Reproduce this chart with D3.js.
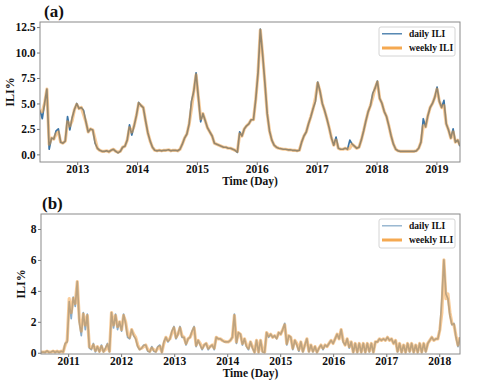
<!DOCTYPE html>
<html>
<head>
<meta charset="utf-8">
<script src="https://cdn.jsdelivr.net/npm/d3@7"></script>
<style>
  body { margin: 0; background: #fff; }
  svg { display: block; font-family: "Liberation Serif", "Times New Roman", serif; font-weight: bold; }
</style>
</head>
<body>
<div id="chartContainer"></div>
<script>
// panel (a): one value every 14 days, starting 2012-05-19
const startA = "2012-05-19";
const stepA = 14;
const weeklyA = [
  4.3,4.2,5.0,6.4,1.0,1.6,1.5,2.0,2.2,1.2,
  1.1,1.3,3.2,2.8,3.3,4.4,4.9,4.5,4.6,3.9,
  3.2,2.2,2.5,2.4,1.5,0.6,0.4,0.3,0.3,0.35,
  0.25,0.4,0.5,0.3,0.2,0.3,0.7,0.8,1.4,2.6,
  2.2,2.8,3.8,5.0,4.8,4.6,3.3,2.1,1.3,0.7,
  0.4,0.35,0.4,0.35,0.4,0.4,0.45,0.35,0.4,0.4,
  0.35,0.5,1.0,1.6,2.0,3.0,4.5,6.2,7.8,5.6,
  3.5,4.0,3.3,2.6,2.2,1.8,1.1,1.0,0.9,0.8,
  0.7,0.7,0.6,0.6,0.5,0.4,0.3,2.0,1.8,2.5,
  2.8,3.0,3.4,3.4,5.4,8.0,12.2,9.8,7.0,4.0,
  2.3,1.4,0.9,0.7,0.6,0.55,0.5,0.5,0.45,0.45,
  0.4,0.4,0.35,0.4,1.2,1.8,2.2,3.0,3.7,4.5,
  5.5,7.0,6.2,5.0,4.3,3.5,2.6,1.6,0.9,1.4,
  0.6,0.5,0.5,0.6,0.5,0.6,1.0,0.8,0.6,0.7,
  1.4,2.3,3.3,4.2,4.8,5.6,6.5,7.1,5.5,5.0,
  4.2,3.7,2.8,1.8,1.0,0.5,0.35,0.3,0.3,0.3,
  0.3,0.3,0.3,0.3,0.35,0.6,1.2,2.8,2.7,3.8,
  4.6,5.0,5.6,6.4,5.2,4.6,4.8,3.0,2.4,1.6,
  2.2,1.2,1.4,0.9
];
const dailyA = [
  4.3,3.5,5.0,6.4,0.5,1.6,1.5,2.3,2.5,1.2,
  1.1,1.3,3.7,2.4,3.6,4.4,5.0,4.5,4.6,4.3,
  3.2,2.2,2.5,2.4,1.1,0.6,0.4,0.3,0.3,0.35,
  0.25,0.4,0.5,0.3,0.15,0.3,0.7,0.8,1.4,2.9,
  1.9,2.8,3.8,5.1,4.8,4.6,3.3,2.1,1.3,0.7,
  0.4,0.35,0.4,0.35,0.4,0.4,0.45,0.35,0.4,0.4,
  0.35,0.5,1.0,1.6,2.0,3.0,5.2,6.2,8.0,5.6,
  3.2,4.0,3.3,2.6,2.2,1.8,1.1,1.0,0.9,0.8,
  0.7,0.7,0.6,0.6,0.5,0.4,0.2,2.2,1.8,2.5,
  2.8,3.0,3.4,3.4,5.4,8.0,12.3,9.8,7.0,4.0,
  2.3,1.4,0.9,0.7,0.6,0.55,0.5,0.5,0.45,0.45,
  0.4,0.4,0.35,0.4,1.2,1.8,2.2,3.0,3.7,4.5,
  5.2,7.1,6.2,5.0,4.3,3.5,2.6,1.6,0.9,1.7,
  0.6,0.5,0.5,0.6,0.5,1.4,1.0,0.8,0.6,0.7,
  1.4,2.3,3.3,4.2,4.8,6.0,6.5,7.2,5.5,5.0,
  4.2,3.7,2.8,1.8,1.0,0.5,0.35,0.3,0.3,0.3,
  0.3,0.3,0.3,0.3,0.35,0.6,1.2,3.5,2.7,3.8,
  4.6,5.0,5.6,6.6,5.2,4.6,5.3,3.0,2.4,1.6,
  2.5,1.2,1.4,0.8
];

// panel (b): one value every 13.88 days, starting 2010-06-28
const startB = "2010-06-28";
const stepB = 13.88;
const weeklyB = [
  0.05,0.05,0.05,0.1,0.05,0.05,0.1,0.05,0.1,0.05,
  0.1,0.05,0.5,0.8,3.5,2.6,3.5,3.2,4.6,2.2,
  1.4,2.5,1.8,2.4,0.4,0.3,0.5,0.15,0.4,0.1,
  0.4,0.1,0.2,0.5,0.1,2.6,1.8,2.4,1.7,2.0,
  1.5,2.4,2.0,1.2,1.0,1.5,1.2,1.0,0.5,0.25,
  0.3,0.4,0.5,0.2,0.1,0.3,0.2,0.1,0.3,0.4,
  0.05,0.6,1.0,0.8,0.9,1.3,1.6,1.0,1.2,1.6,
  1.1,1.0,0.6,0.9,1.0,1.3,1.6,0.5,0.8,0.6,
  0.3,0.5,0.6,0.3,0.4,0.5,0.3,1.0,0.9,0.9,
  0.8,0.75,0.7,0.7,0.8,1.0,2.4,0.7,1.3,1.2,
  0.6,0.9,0.5,0.3,0.7,0.4,0.05,0.8,0.05,0.8,
  0.1,0.05,1.3,1.1,1.2,1.0,1.1,0.95,1.3,1.2,
  1.5,1.8,0.6,1.1,1.0,0.3,0.8,0.6,0.2,0.7,
  0.1,0.5,0.9,0.1,0.5,0.1,0.4,0.05,0.3,0.5,
  0.3,0.5,0.4,0.6,0.8,0.6,0.9,1.2,0.9,1.5,
  0.8,0.5,0.9,0.4,0.7,0.05,0.6,0.05,0.6,0.05,
  0.6,0.05,0.6,0.1,0.6,0.05,0.7,0.7,0.9,0.8,
  0.9,0.8,1.0,0.8,0.9,0.6,0.8,0.1,0.6,0.05,
  0.5,0.05,0.6,0.1,0.6,0.05,0.5,0.05,0.6,0.05,
  0.6,0.1,0.6,0.8,1.0,0.8,0.9,0.9,1.5,2.6,
  6.0,3.5,3.8,2.6,1.9,1.8,1.1,0.5,1.0
];
const dailyB = [
  0.02,0.05,0.02,0.12,0.02,0.05,0.12,0.02,0.1,0.02,
  0.1,0.05,0.6,0.7,3.3,2.2,3.6,3.0,4.6,2.0,
  1.1,2.6,1.5,2.5,0.3,0.2,0.6,0.05,0.4,0.05,
  0.5,0.05,0.3,0.6,0.05,2.6,1.6,2.5,1.5,2.0,
  1.4,2.5,1.9,1.0,0.9,1.5,1.1,0.9,0.4,0.2,
  0.3,0.5,0.5,0.1,0.05,0.4,0.1,0.05,0.4,0.5,
  0.02,0.7,1.0,0.7,0.9,1.4,1.7,0.9,1.2,1.7,
  1.0,1.0,0.5,0.9,1.0,1.4,1.7,0.4,0.8,0.5,
  0.2,0.5,0.6,0.2,0.4,0.5,0.2,1.0,0.9,0.9,
  0.8,0.7,0.7,0.7,0.8,1.0,2.5,0.6,1.3,1.2,
  0.5,0.9,0.4,0.2,0.7,0.3,0.02,0.8,0.02,0.8,
  0.05,0.02,1.3,1.0,1.2,1.0,1.1,0.9,1.3,1.2,
  1.5,1.9,0.5,1.1,1.0,0.2,0.8,0.5,0.1,0.7,
  0.05,0.5,0.9,0.05,0.5,0.05,0.4,0.02,0.3,0.5,
  0.2,0.5,0.4,0.6,0.8,0.6,0.9,1.2,0.9,1.5,
  0.7,0.5,0.9,0.3,0.7,0.02,0.6,0.02,0.6,0.02,
  0.6,0.02,0.6,0.05,0.6,0.02,0.7,0.7,0.9,0.8,
  0.9,0.8,1.0,0.8,0.9,0.6,0.8,0.05,0.6,0.02,
  0.5,0.02,0.6,0.05,0.6,0.02,0.5,0.02,0.6,0.02,
  0.6,0.05,0.6,0.8,1.0,0.8,0.9,0.9,1.5,3.5,
  6.0,3.8,3.5,2.4,1.8,1.9,1.0,0.4,1.0
];

const yTicksA = [0, 2.5, 5, 7.5, 10, 12.5];
const yTicksB = [0, 2, 4, 6, 8];
const seriesNames = ["daily ILI", "weekly ILI"];
const panelLabels = ["(a)", "(b)"];
const xAxisLabel = "Time (Day)";
const yAxisLabel = "ILI%";

const width = 477;
const height = 386;
const dailyColor = "#3a74a6";
const weeklyColor = "#f39a33";

const svg = d3.select("#chartContainer").append("svg")
  .attr("width", width)
  .attr("height", height)
  .attr("viewBox", [0, 0, width, height]);

const parseDate = d3.timeParse("%Y-%m-%d");

function toPoints(values, start, step) {
  const t0 = parseDate(start).getTime();
  return values.map((v, i) => ({ date: new Date(t0 + i * step * 864e5), value: v }));
}

function styleTicks(sel) {
  sel.select(".domain").remove();
  sel.selectAll("line").attr("stroke", "#777");
  sel.selectAll("text")
    .attr("fill", "#111")
    .style("font-size", "11.5px")
    .style("font-family", "Liberation Serif, serif")
    .style("font-weight", "bold");
}

function drawPanel(p) {
  const g = svg.append("g");
  const daily = toPoints(p.daily, p.start, p.step);
  const weekly = toPoints(p.weekly, p.start, p.step);

  const x = d3.scaleTime()
    .domain([daily[0].date, daily[daily.length - 1].date])
    .range([p.left, p.right]);

  const y = d3.scaleLinear()
    .domain(p.yDomain)
    .range([p.bottom, p.top]);

  g.append("clipPath")
    .attr("id", "clip" + p.id)
    .append("rect")
    .attr("x", p.left)
    .attr("y", p.top)
    .attr("width", p.right - p.left)
    .attr("height", p.bottom - p.top);

  const line = d3.line()
    .x(d => x(d.date))
    .y(d => y(d.value));

  const plot = g.append("g").attr("clip-path", `url(#clip${p.id})`);

  plot.append("path")
    .datum(daily)
    .attr("d", line)
    .attr("fill", "none")
    .attr("stroke", dailyColor)
    .attr("stroke-opacity", p.dailyOpacity)
    .attr("stroke-width", 1.7)
    .attr("stroke-linejoin", "round");

  plot.append("path")
    .datum(weekly)
    .attr("d", line)
    .attr("fill", "none")
    .attr("stroke", weeklyColor)
    .attr("stroke-opacity", 0.5)
    .attr("stroke-width", 3.2)
    .attr("stroke-linejoin", "round");

  // x axis
  g.append("g")
    .attr("transform", `translate(0,${p.bottom})`)
    .call(d3.axisBottom(x)
      .ticks(d3.timeYear.every(1))
      .tickFormat(d3.timeFormat("%Y"))
      .tickSize(3)
      .tickSizeOuter(0)
      .tickPadding(0))
    .call(styleTicks);

  // y axis
  g.append("g")
    .attr("transform", `translate(${p.left},0)`)
    .call(d3.axisLeft(y)
      .tickValues(p.yTicks)
      .tickFormat(p.yFormat)
      .tickSize(3)
      .tickSizeOuter(0)
      .tickPadding(1.5))
    .call(styleTicks);

  // frame
  g.append("rect")
    .attr("x", p.left)
    .attr("y", p.top)
    .attr("width", p.right - p.left)
    .attr("height", p.bottom - p.top)
    .attr("fill", "none")
    .attr("stroke", "#8a8a8a")
    .attr("stroke-width", 1);

  // panel label
  g.append("text")
    .attr("x", p.labelX)
    .attr("y", p.labelY)
    .style("font-size", "17px")
    .attr("fill", "#111")
    .text(p.label);

  // axis titles
  g.append("text")
    .attr("text-anchor", "middle")
    .attr("x", (p.left + p.right) / 2)
    .attr("y", p.xLabelY)
    .style("font-size", "11.5px")
    .attr("fill", "#111")
    .text(xAxisLabel);

  g.append("text")
    .attr("text-anchor", "middle")
    .attr("transform", `translate(${p.yLabelX},${(p.top + p.bottom) / 2}) rotate(-90)`)
    .attr("dy", "0.35em")
    .style("font-size", "12px")
    .attr("fill", "#111")
    .text(yAxisLabel);

  // legend
  const lg = g.append("g").attr("transform", `translate(${p.legendX},${p.legendY})`);
  lg.append("rect")
    .attr("width", 76)
    .attr("height", 29)
    .attr("rx", 2)
    .attr("fill", "#fff")
    .attr("fill-opacity", 0.8)
    .attr("stroke", "#d4d4d4")
    .attr("stroke-width", 1);

  const entries = [
    { name: seriesNames[0], color: dailyColor, opacity: p.dailyOpacity, w: 1.3 },
    { name: seriesNames[1], color: weeklyColor, opacity: 0.85, w: 3 }
  ];
  entries.forEach((e, i) => {
    const ly = 6.8 + i * 14.2;
    lg.append("line")
      .attr("x1", 3).attr("x2", 23)
      .attr("y1", ly).attr("y2", ly)
      .attr("stroke", e.color)
      .attr("stroke-opacity", e.opacity)
      .attr("stroke-width", e.w);
    lg.append("text")
      .attr("x", 30)
      .attr("y", ly)
      .attr("dy", "0.35em")
      .style("font-size", "9.5px")
      .attr("fill", "#111")
      .text(e.name);
  });
}

drawPanel({
  id: "a", label: panelLabels[0],
  daily: dailyA, weekly: weeklyA, start: startA, step: stepA,
  left: 40, right: 460, top: 22, bottom: 162,
  yDomain: [-0.75, 13.0], yTicks: yTicksA, yFormat: d3.format(".1f"),
  dailyOpacity: 1,
  labelX: 44, labelY: 17, xLabelY: 185, yLabelX: 10,
  legendX: 379, legendY: 27
});

drawPanel({
  id: "b", label: panelLabels[1],
  daily: dailyB, weekly: weeklyB, start: startB, step: stepB,
  left: 41, right: 460, top: 214, bottom: 354,
  yDomain: [-0.08, 8.97], yTicks: yTicksB, yFormat: d3.format("d"),
  dailyOpacity: 0.6,
  labelX: 42, labelY: 209, xLabelY: 377, yLabelX: 21,
  legendX: 379, legendY: 219
});
</script>
</body>
</html>
